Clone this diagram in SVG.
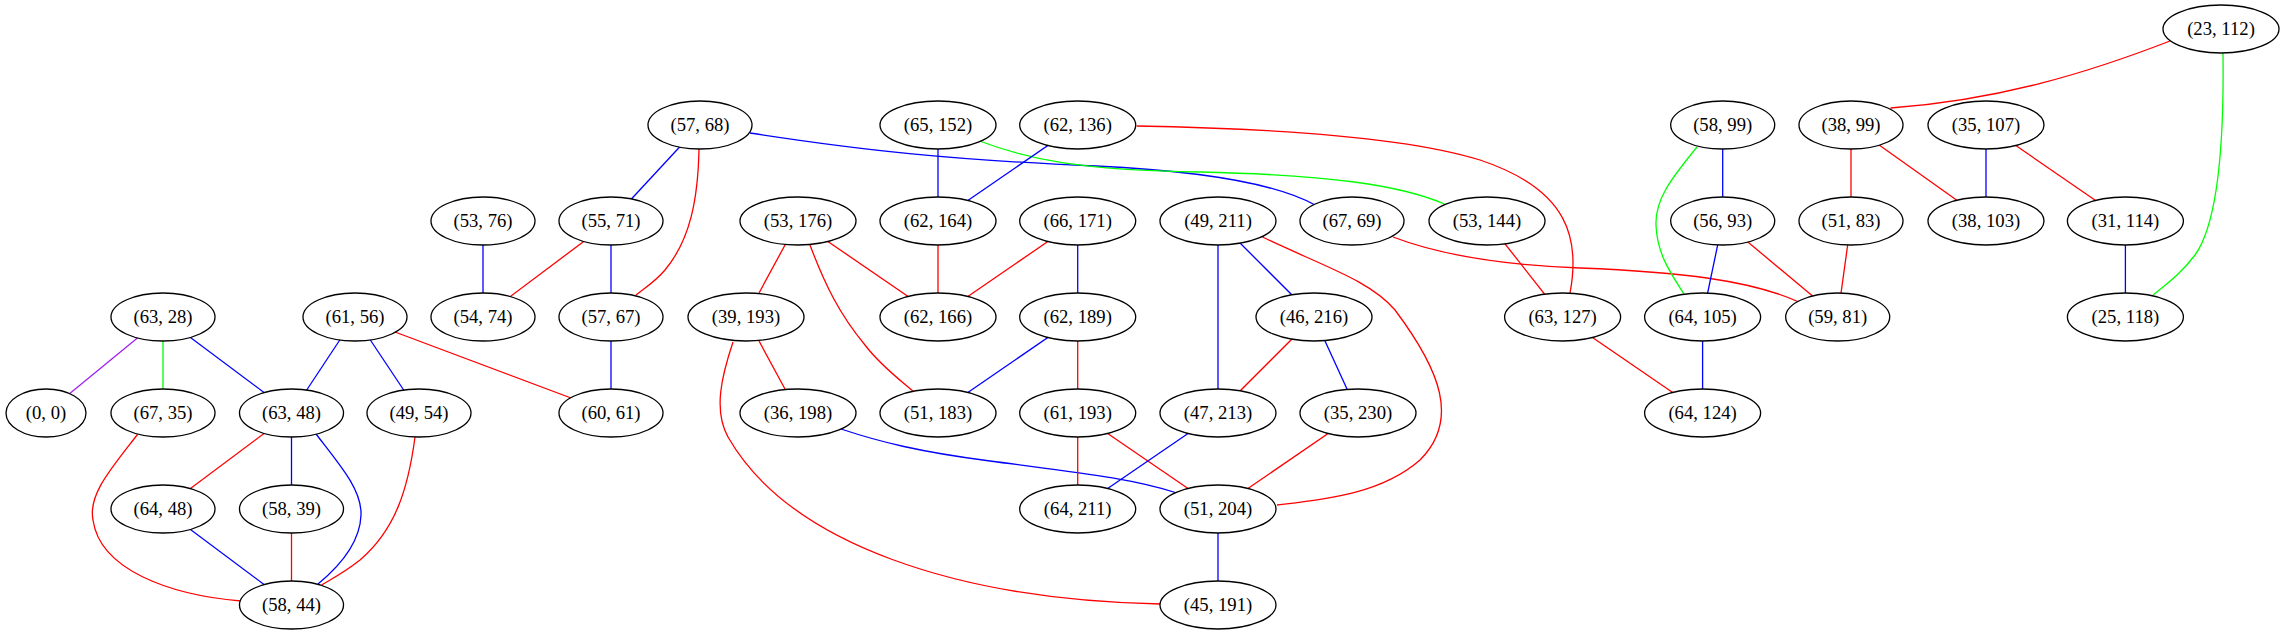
<svg xmlns="http://www.w3.org/2000/svg" width="2285" height="635" viewBox="0 0 2285 635">
<style>
.n ellipse{fill:#fff;stroke:#000;stroke-width:1.3}
.n text{font-family:"Liberation Serif","Times New Roman",serif;font-size:18.67px;text-anchor:middle;fill:#000}
#edges line,#edges path{fill:none;stroke-width:1.3}
.r{stroke:#ff0000}.b{stroke:#0000ff}.g{stroke:#00ff00}.p{stroke:#a020f0}
</style>
<rect width="2285" height="635" fill="#fff"/>
<g id="edges">
<line class="p" x1="163" y1="317" x2="46" y2="413"/>
<line class="g" x1="163" y1="317" x2="163" y2="413"/>
<line class="b" x1="163" y1="317" x2="291.5" y2="413"/>
<line class="b" x1="355" y1="317" x2="291.5" y2="413"/>
<line class="b" x1="355" y1="317" x2="419" y2="413"/>
<line class="r" x1="355" y1="317" x2="611" y2="413"/>
<path class="r" d="M137.5,434.5 C110,470 88,495 93,520 C100,570 170,595 241,601"/>
<line class="r" x1="291.5" y1="413" x2="163" y2="509"/>
<line class="b" x1="291.5" y1="413" x2="291.5" y2="509"/>
<path class="b" d="M316,434 C340,465 362,490 361,515 C360,545 335,570 318,584"/>
<path class="r" d="M415,437 C408,490 395,530 360,560 C345,572 330,580 321.5,585"/>
<line class="b" x1="163" y1="509" x2="291.5" y2="605"/>
<line class="r" x1="291.5" y1="509" x2="291.5" y2="605"/>
<line class="b" x1="483" y1="221" x2="483" y2="317"/>
<line class="r" x1="611" y1="221" x2="483" y2="317"/>
<line class="b" x1="611" y1="221" x2="611" y2="317"/>
<line class="b" x1="700" y1="125" x2="611" y2="221"/>
<path class="r" d="M699,149 C698,200 690,240 665,270 C655,282 642,290 636,295"/>
<line class="b" x1="611" y1="317" x2="611" y2="413"/>
<path class="b" d="M750,133 C860,150 950,160 1096,166 C1180,170 1270,180 1315,205"/>
<line class="b" x1="938" y1="125" x2="938" y2="221"/>
<path class="g" d="M979.5,141 C1030,160 1080,170 1200,172 C1330,175 1400,185 1444.5,204"/>
<line class="b" x1="1077.7" y1="125" x2="938" y2="221"/>
<path class="r" d="M1136.6,126 C1250,128 1400,135 1480,160 C1570,190 1580,240 1570,293"/>
<line class="r" x1="938" y1="221" x2="938" y2="317"/>
<line class="r" x1="798" y1="221" x2="938" y2="317"/>
<line class="r" x1="798" y1="221" x2="746" y2="317"/>
<path class="r" d="M810,245 C825,285 840,315 865,345 C880,365 900,380 914,392"/>
<line class="r" x1="1077.7" y1="221" x2="938" y2="317"/>
<line class="b" x1="1077.7" y1="221" x2="1077.7" y2="317"/>
<line class="b" x1="1077.7" y1="317" x2="938" y2="413"/>
<line class="r" x1="1077.7" y1="317" x2="1077.7" y2="413"/>
<line class="r" x1="746" y1="317" x2="798" y2="413"/>
<path class="r" d="M733,342 C722,375 713,410 728,437 C790,545 960,600 1160,604"/>
<path class="b" d="M841,429 C880,442 920,452 990,461 C1080,473 1130,478 1177,493"/>
<line class="r" x1="1077.7" y1="413" x2="1077.7" y2="509"/>
<line class="r" x1="1077.7" y1="413" x2="1218" y2="509"/>
<line class="b" x1="1218" y1="413" x2="1077.7" y2="509"/>
<line class="b" x1="1218" y1="221" x2="1218" y2="413"/>
<line class="b" x1="1218" y1="221" x2="1314" y2="317"/>
<path class="r" d="M1262.5,237 C1320,265 1370,280 1395,310 C1440,370 1460,420 1420,460 C1380,495 1320,500 1277,505"/>
<line class="r" x1="1314" y1="317" x2="1218" y2="413"/>
<line class="b" x1="1314" y1="317" x2="1358" y2="413"/>
<line class="r" x1="1358" y1="413" x2="1218" y2="509"/>
<line class="b" x1="1218" y1="509" x2="1218" y2="605"/>
<path class="r" d="M1393,237 C1440,255 1500,265 1580,268 C1680,272 1750,280 1799,302"/>
<line class="r" x1="1487" y1="221" x2="1562.6" y2="317"/>
<line class="r" x1="1562.6" y1="317" x2="1702.6" y2="413"/>
<line class="b" x1="1722.7" y1="125" x2="1722.7" y2="221"/>
<path class="g" d="M1697,147 C1670,180 1655,200 1656,225 C1657,255 1672,275 1684,294"/>
<line class="b" x1="1722.7" y1="221" x2="1702.6" y2="317"/>
<line class="r" x1="1722.7" y1="221" x2="1837.7" y2="317"/>
<line class="r" x1="1851" y1="221" x2="1837.7" y2="317"/>
<line class="r" x1="1851" y1="125" x2="1851" y2="221"/>
<line class="r" x1="1851" y1="125" x2="1986" y2="221"/>
<line class="b" x1="1986" y1="125" x2="1986" y2="221"/>
<line class="r" x1="1986" y1="125" x2="2125.4" y2="221"/>
<line class="b" x1="2125.4" y1="221" x2="2125.4" y2="317"/>
<path class="r" d="M2170,41 C2090,72 2000,100 1890.5,108"/>
<path class="g" d="M2223,53 C2224,130 2220,220 2195,255 C2180,275 2165,285 2153,295"/>
<line class="b" x1="1702.6" y1="317" x2="1702.6" y2="413"/>
</g>
<g id="n0" class="n"><ellipse cx="163" cy="317" rx="52" ry="24"/><text x="163" y="323">(63, 28)</text></g>
<g id="n1" class="n"><ellipse cx="46" cy="413" rx="40" ry="24"/><text x="46" y="419">(0, 0)</text></g>
<g id="n2" class="n"><ellipse cx="163" cy="413" rx="52" ry="24"/><text x="163" y="419">(67, 35)</text></g>
<g id="n3" class="n"><ellipse cx="291.5" cy="413" rx="52" ry="24"/><text x="291.5" y="419">(63, 48)</text></g>
<g id="n4" class="n"><ellipse cx="419" cy="413" rx="52" ry="24"/><text x="419" y="419">(49, 54)</text></g>
<g id="n5" class="n"><ellipse cx="355" cy="317" rx="52" ry="24"/><text x="355" y="323">(61, 56)</text></g>
<g id="n6" class="n"><ellipse cx="483" cy="317" rx="52" ry="24"/><text x="483" y="323">(54, 74)</text></g>
<g id="n7" class="n"><ellipse cx="611" cy="317" rx="52" ry="24"/><text x="611" y="323">(57, 67)</text></g>
<g id="n8" class="n"><ellipse cx="611" cy="413" rx="52" ry="24"/><text x="611" y="419">(60, 61)</text></g>
<g id="n9" class="n"><ellipse cx="163" cy="509" rx="52" ry="24"/><text x="163" y="515">(64, 48)</text></g>
<g id="n10" class="n"><ellipse cx="291.5" cy="509" rx="52" ry="24"/><text x="291.5" y="515">(58, 39)</text></g>
<g id="n11" class="n"><ellipse cx="291.5" cy="605" rx="52" ry="24"/><text x="291.5" y="611">(58, 44)</text></g>
<g id="n12" class="n"><ellipse cx="483" cy="221" rx="52" ry="24"/><text x="483" y="227">(53, 76)</text></g>
<g id="n13" class="n"><ellipse cx="611" cy="221" rx="52" ry="24"/><text x="611" y="227">(55, 71)</text></g>
<g id="n14" class="n"><ellipse cx="700" cy="125" rx="52" ry="24"/><text x="700" y="131">(57, 68)</text></g>
<g id="n15" class="n"><ellipse cx="938" cy="125" rx="58" ry="24"/><text x="938" y="131">(65, 152)</text></g>
<g id="n16" class="n"><ellipse cx="1077.7" cy="125" rx="58" ry="24"/><text x="1077.7" y="131">(62, 136)</text></g>
<g id="n17" class="n"><ellipse cx="798" cy="221" rx="58" ry="24"/><text x="798" y="227">(53, 176)</text></g>
<g id="n18" class="n"><ellipse cx="938" cy="221" rx="58" ry="24"/><text x="938" y="227">(62, 164)</text></g>
<g id="n19" class="n"><ellipse cx="1077.7" cy="221" rx="58" ry="24"/><text x="1077.7" y="227">(66, 171)</text></g>
<g id="n20" class="n"><ellipse cx="1218" cy="221" rx="58" ry="24"/><text x="1218" y="227">(49, 211)</text></g>
<g id="n21" class="n"><ellipse cx="1352" cy="221" rx="52" ry="24"/><text x="1352" y="227">(67, 69)</text></g>
<g id="n22" class="n"><ellipse cx="746" cy="317" rx="58" ry="24"/><text x="746" y="323">(39, 193)</text></g>
<g id="n23" class="n"><ellipse cx="938" cy="317" rx="58" ry="24"/><text x="938" y="323">(62, 166)</text></g>
<g id="n24" class="n"><ellipse cx="1077.7" cy="317" rx="58" ry="24"/><text x="1077.7" y="323">(62, 189)</text></g>
<g id="n25" class="n"><ellipse cx="1314" cy="317" rx="58" ry="24"/><text x="1314" y="323">(46, 216)</text></g>
<g id="n26" class="n"><ellipse cx="798" cy="413" rx="58" ry="24"/><text x="798" y="419">(36, 198)</text></g>
<g id="n27" class="n"><ellipse cx="938" cy="413" rx="58" ry="24"/><text x="938" y="419">(51, 183)</text></g>
<g id="n28" class="n"><ellipse cx="1077.7" cy="413" rx="58" ry="24"/><text x="1077.7" y="419">(61, 193)</text></g>
<g id="n29" class="n"><ellipse cx="1218" cy="413" rx="58" ry="24"/><text x="1218" y="419">(47, 213)</text></g>
<g id="n30" class="n"><ellipse cx="1358" cy="413" rx="58" ry="24"/><text x="1358" y="419">(35, 230)</text></g>
<g id="n31" class="n"><ellipse cx="1077.7" cy="509" rx="58" ry="24"/><text x="1077.7" y="515">(64, 211)</text></g>
<g id="n32" class="n"><ellipse cx="1218" cy="509" rx="58" ry="24"/><text x="1218" y="515">(51, 204)</text></g>
<g id="n33" class="n"><ellipse cx="1218" cy="605" rx="58" ry="24"/><text x="1218" y="611">(45, 191)</text></g>
<g id="n34" class="n"><ellipse cx="2221" cy="29" rx="58" ry="24"/><text x="2221" y="35">(23, 112)</text></g>
<g id="n35" class="n"><ellipse cx="1722.7" cy="125" rx="52" ry="24"/><text x="1722.7" y="131">(58, 99)</text></g>
<g id="n36" class="n"><ellipse cx="1851" cy="125" rx="52" ry="24"/><text x="1851" y="131">(38, 99)</text></g>
<g id="n37" class="n"><ellipse cx="1986" cy="125" rx="58" ry="24"/><text x="1986" y="131">(35, 107)</text></g>
<g id="n38" class="n"><ellipse cx="1487" cy="221" rx="58" ry="24"/><text x="1487" y="227">(53, 144)</text></g>
<g id="n39" class="n"><ellipse cx="1722.7" cy="221" rx="52" ry="24"/><text x="1722.7" y="227">(56, 93)</text></g>
<g id="n40" class="n"><ellipse cx="1851" cy="221" rx="52" ry="24"/><text x="1851" y="227">(51, 83)</text></g>
<g id="n41" class="n"><ellipse cx="1986" cy="221" rx="58" ry="24"/><text x="1986" y="227">(38, 103)</text></g>
<g id="n42" class="n"><ellipse cx="2125.4" cy="221" rx="58" ry="24"/><text x="2125.4" y="227">(31, 114)</text></g>
<g id="n43" class="n"><ellipse cx="1562.6" cy="317" rx="58" ry="24"/><text x="1562.6" y="323">(63, 127)</text></g>
<g id="n44" class="n"><ellipse cx="1702.6" cy="317" rx="58" ry="24"/><text x="1702.6" y="323">(64, 105)</text></g>
<g id="n45" class="n"><ellipse cx="1837.7" cy="317" rx="52" ry="24"/><text x="1837.7" y="323">(59, 81)</text></g>
<g id="n46" class="n"><ellipse cx="2125.4" cy="317" rx="58" ry="24"/><text x="2125.4" y="323">(25, 118)</text></g>
<g id="n47" class="n"><ellipse cx="1702.6" cy="413" rx="58" ry="24"/><text x="1702.6" y="419">(64, 124)</text></g>
</svg>
